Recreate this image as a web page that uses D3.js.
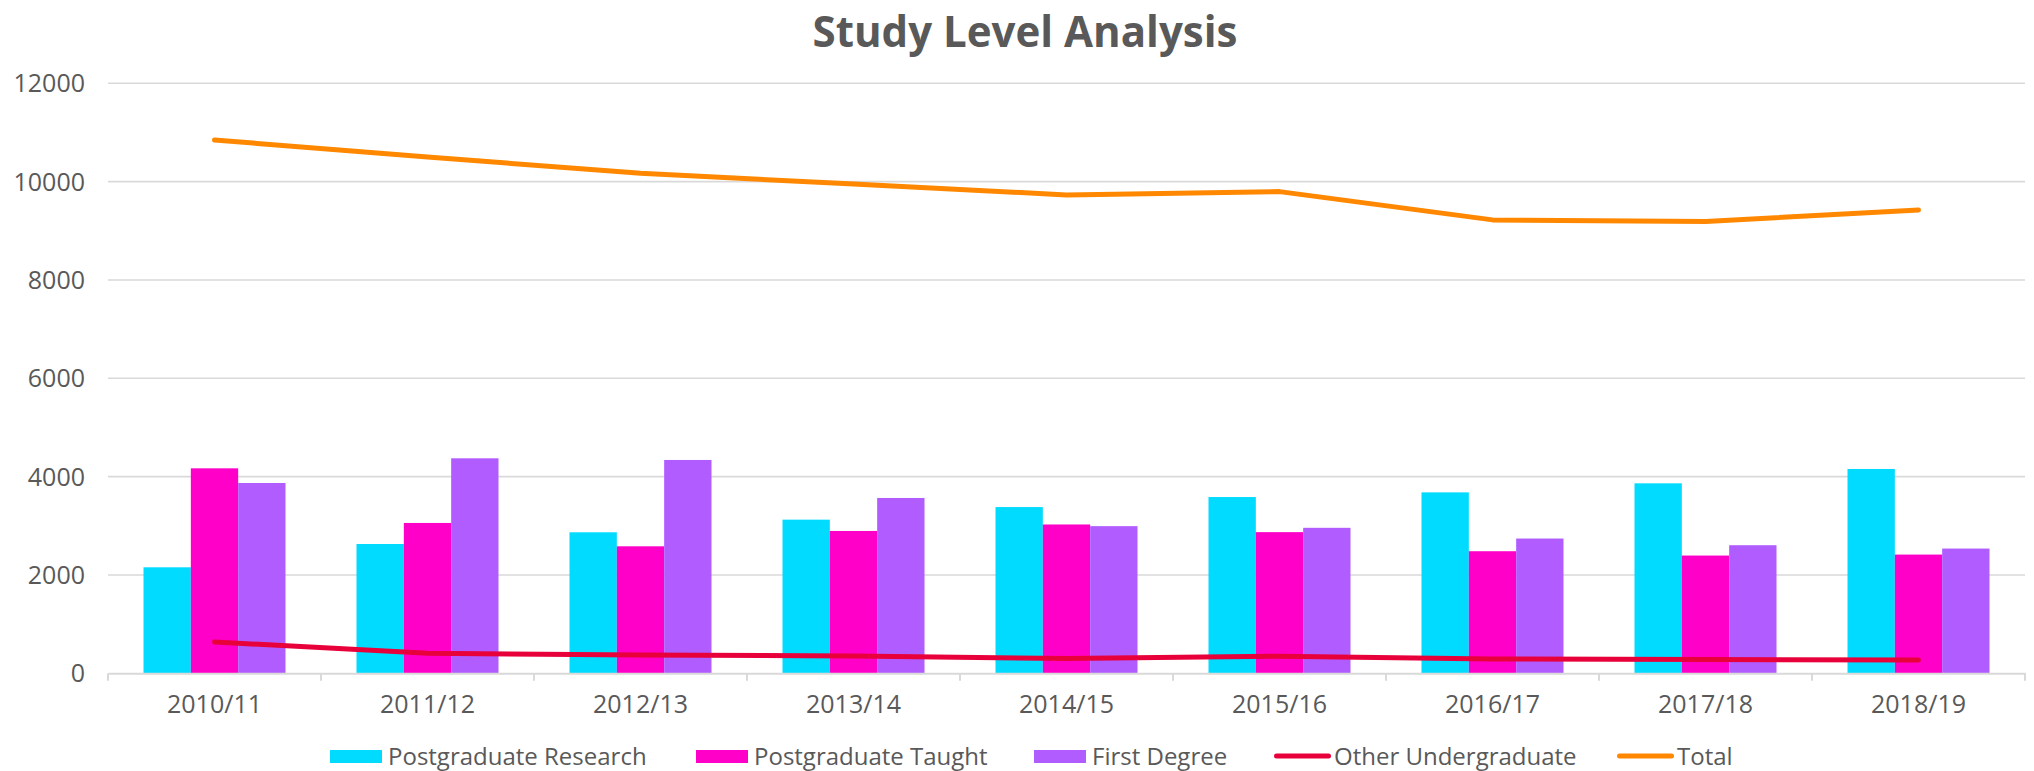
<!DOCTYPE html>
<html>
<head>
<meta charset="utf-8">
<script src="https://cdn.jsdelivr.net/npm/d3@7"></script>
<style>
  html, body { margin: 0; padding: 0; background: #ffffff; }
  svg { display: block; }
  text { font-family: "Open Sans", "Liberation Sans", sans-serif; fill: #595959; }
</style>
</head>
<body>
<svg id="chart" width="2034" height="771"></svg>
<script>
const categories = ["2010/11","2011/12","2012/13","2013/14","2014/15","2015/16","2016/17","2017/18","2018/19"];
const postgradResearch = [2156, 2630, 2868, 3125, 3381, 3585, 3680, 3864, 4156];
const postgradTaught   = [4169, 3058, 2583, 2895, 3027, 2871, 2483, 2395, 2415];
const firstDegree      = [3871, 4373, 4339, 3566, 2993, 2959, 2741, 2605, 2537];
const otherUndergrad   = [637, 407, 373, 353, 300, 347, 293, 279, 272];
const total            = [10847, 10500, 10171, 9950, 9730, 9797, 9222, 9188, 9425];
const yTicks = [0, 2000, 4000, 6000, 8000, 10000, 12000];
const title = "Study Level Analysis";

const barSeries = [
  { name: "Postgraduate Research", values: postgradResearch, color: "#00DBFF" },
  { name: "Postgraduate Taught",   values: postgradTaught,   color: "#FF00C8" },
  { name: "First Degree",          values: firstDegree,      color: "#B05CFF" }
];
const lineSeries = [
  { name: "Other Undergraduate", values: otherUndergrad, color: "#E8003B" },
  { name: "Total",               values: total,          color: "#FF8800" }
];

const svg = d3.select("#chart");
const plot = { left: 108, right: 2025, top: 83.3, bottom: 673.3 };

const x = d3.scaleBand().domain(categories).range([plot.left, plot.right]).paddingInner(0).paddingOuter(0);
const y = d3.scaleLinear().domain([0, 12000]).range([plot.bottom, plot.top]);
const groupWidth = x.bandwidth() * (3 / 4.5);
const x1 = d3.scaleBand().domain(barSeries.map(d => d.name)).range([0, groupWidth]).padding(0);

// Gridlines
svg.append("g").selectAll("line").data(yTicks.filter(t => t > 0)).join("line")
  .attr("x1", plot.left).attr("x2", plot.right)
  .attr("y1", d => y(d)).attr("y2", d => y(d))
  .attr("stroke", "#D9D9D9").attr("stroke-width", 1.6);

// Y axis labels
const yAxis = d3.axisLeft(y).tickValues(yTicks).tickSize(0).tickPadding(0).tickFormat(d3.format("d"));
const yg = svg.append("g").attr("transform", `translate(85,0)`).call(yAxis);
yg.select(".domain").remove();
yg.selectAll("text").attr("font-size", 25).attr("fill", "#595959")
  .attr("font-family", '"Open Sans", sans-serif').attr("dy", "0.34em");

// Bars
const groups = svg.append("g").selectAll("g").data(categories).join("g")
  .attr("transform", d => `translate(${x(d) + (x.bandwidth() - groupWidth) / 2},0)`);
groups.selectAll("rect").data((c, i) => barSeries.map(s => ({ s, v: s.values[i] }))).join("rect")
  .attr("x", d => x1(d.s.name))
  .attr("width", x1.bandwidth())
  .attr("y", d => y(d.v))
  .attr("height", d => y(0) - y(d.v))
  .attr("fill", d => d.s.color);

// X axis
const xAxis = d3.axisBottom(x).tickSize(0).tickPadding(0);
const xg = svg.append("g").attr("transform", `translate(0,${plot.bottom})`).call(xAxis);
xg.select(".domain").attr("stroke", "#D9D9D9").attr("stroke-width", 2);
xg.selectAll("text").attr("font-size", 25).attr("fill", "#595959")
  .attr("font-family", '"Open Sans", sans-serif').attr("y", 40).attr("dy", 0);
// band boundary ticks
const bounds = categories.map(c => x(c)).concat([x.range()[1]]);
svg.append("g").selectAll("line").data(bounds).join("line")
  .attr("x1", d => d).attr("x2", d => d)
  .attr("y1", plot.bottom).attr("y2", plot.bottom + 7.5)
  .attr("stroke", "#D9D9D9").attr("stroke-width", 2);

// Lines
const line = d3.line().x((d, i) => x(categories[i]) + x.bandwidth() / 2).y(d => y(d));
lineSeries.forEach(s => {
  svg.append("path").datum(s.values)
    .attr("d", line)
    .attr("fill", "none")
    .attr("stroke", s.color)
    .attr("stroke-width", 5)
    .attr("stroke-linejoin", "round")
    .attr("stroke-linecap", "round");
});

// Title
const t = svg.append("text").text(title)
  .attr("x", 1025).attr("y", 46.5)
  .attr("text-anchor", "middle")
  .attr("font-size", 42).attr("font-weight", "bold").attr("fill", "#595959");
const tw = t.node().getComputedTextLength();
t.attr("font-size", 42 * 425 / tw);

// Legend
const legendItems = barSeries.map(s => ({ name: s.name, color: s.color, type: "rect" }))
  .concat(lineSeries.map(s => ({ name: s.name, color: s.color, type: "line" })));
const legend = svg.append("g");
const legendStarts = [330, 696, 1034, 1274, 1617];
legendItems.forEach((it, i) => {
  const g = legend.append("g").attr("transform", `translate(${legendStarts[i]},0)`);
  if (it.type === "rect") {
    g.append("rect").attr("x", 0).attr("y", 750).attr("width", 52).attr("height", 13).attr("fill", it.color);
    g.append("text").text(it.name).attr("x", 58).attr("y", 765).attr("font-size", 24);
  } else {
    g.append("line").attr("x1", 2.5).attr("x2", 54.5).attr("y1", 756).attr("y2", 756)
      .attr("stroke", it.color).attr("stroke-width", 5).attr("stroke-linecap", "round");
    g.append("text").text(it.name).attr("x", 60).attr("y", 765).attr("font-size", 24);
  }
});
</script>
</body>
</html>
